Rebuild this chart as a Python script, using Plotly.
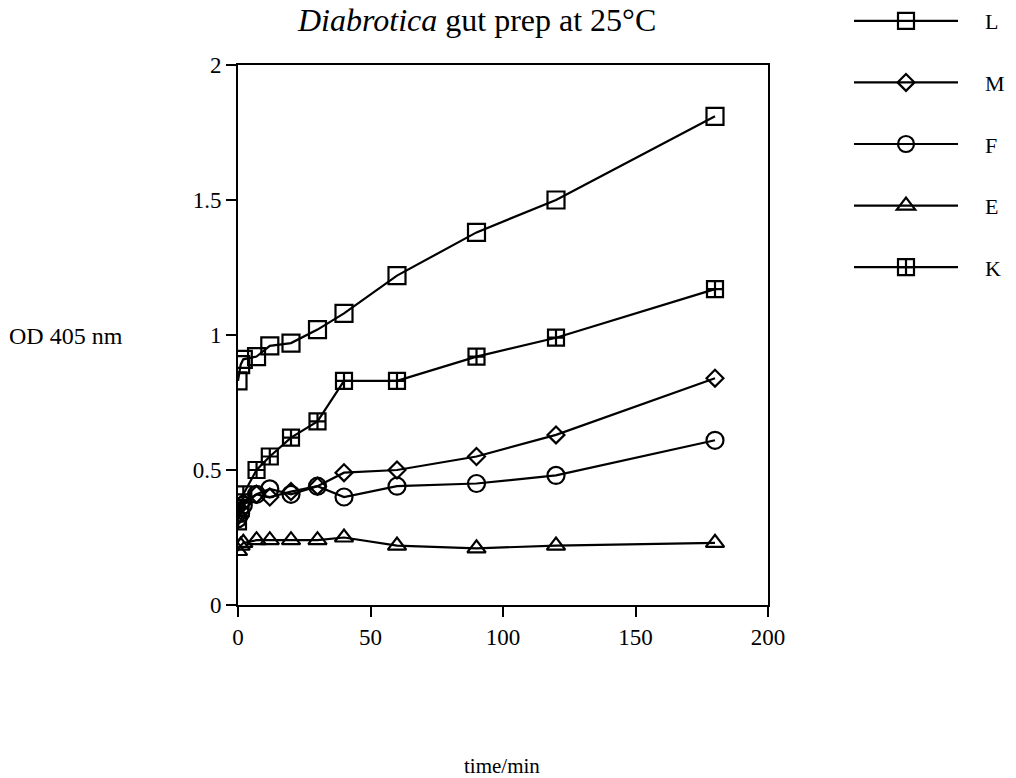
import plotly.graph_objects as go

time_min = [0, 1, 2, 7, 12, 20, 30, 40, 60, 90, 120, 180]
series_names = ["L", "M", "F", "E", "K"]
L_vals = [0.83, 0.89, 0.91, 0.92, 0.96, 0.97, 1.02, 1.08, 1.22, 1.38, 1.50, 1.81]
M_vals = [0.33, 0.35, 0.38, 0.41, 0.40, 0.42, 0.44, 0.49, 0.50, 0.55, 0.63, 0.84]
F_vals = [0.32, 0.34, 0.37, 0.41, 0.43, 0.41, 0.44, 0.40, 0.44, 0.45, 0.48, 0.61]
E_vals = [0.20, 0.22, 0.23, 0.24, 0.24, 0.24, 0.24, 0.25, 0.22, 0.21, 0.22, 0.23]
K_vals = [0.31, 0.36, 0.41, 0.50, 0.55, 0.62, 0.68, 0.83, 0.83, 0.92, 0.99, 1.17]
x_ticks = [0, 50, 100, 150, 200]
y_ticks = [0, 0.5, 1, 1.5, 2]
y_tick_text = ["0", "0.5", "1", "1.5", "2"]

symbols = ["square-open", "diamond-open", "circle-open", "triangle-up-open", "square-cross-open"]
sizes = [17, 13, 17, 16, 16]
values = [L_vals, M_vals, F_vals, E_vals, K_vals]

FONT = "Liberation Serif"
PAD = "\u00a0" * 4

fig = go.Figure()
for name, vals, sym, sz in zip(series_names, values, symbols, sizes):
    fig.add_trace(go.Scatter(
        x=time_min, y=vals, name=PAD + name, mode="lines+markers",
        legendgroup=name,
        line=dict(color="black", width=2.2),
        marker=dict(symbol=sym, size=sz, color="black",
                    line=dict(color="black", width=2.2)),
    ))

W, H = 1016, 778
L_M, R_M, T_M, B_M = 238, 248, 65, 173
PW, PH = W - L_M - R_M, H - T_M - B_M

def px_x(x):
    return (x - L_M) / PW

def px_y(y):
    return (H - B_M - y) / PH

fig.update_layout(
    width=W, height=H,
    margin=dict(l=L_M, r=R_M, t=T_M, b=B_M, pad=0, autoexpand=False),
    paper_bgcolor="white", plot_bgcolor="white",
    font=dict(family=FONT, size=22, color="black"),
    showlegend=True,
    legend=dict(
        x=px_x(849), y=px_y(0),
        xanchor="left", yanchor="top",
        font=dict(family=FONT, size=22, color="black"),
        itemwidth=104, tracegroupgap=30,
        bgcolor="rgba(0,0,0,0)",
    ),
    xaxis=dict(
        range=[0, 200], tickvals=x_ticks, ticks="outside", ticklen=10,
        tickwidth=2, tickcolor="black", showline=True, linecolor="black",
        linewidth=2, mirror=True, showgrid=False, zeroline=False,
        tickfont=dict(family=FONT, size=23),
    ),
    yaxis=dict(
        range=[0, 2], tickvals=y_ticks, ticktext=y_tick_text, ticks="outside",
        ticklen=10, tickwidth=2, tickcolor="black", showline=True,
        linecolor="black", linewidth=2, mirror=True, showgrid=False,
        zeroline=False, tickfont=dict(family=FONT, size=23),
    ),
    annotations=[
        dict(text="<i>Diabrotica</i> gut prep at 25°C", xref="paper", yref="paper",
             x=px_x(476), y=px_y(0),
             xanchor="center", yanchor="top", showarrow=False,
             font=dict(family=FONT, size=32)),
        dict(text="OD 405 nm", xref="paper", yref="paper",
             x=px_x(7), y=px_y(336),
             xanchor="left", yanchor="middle", showarrow=False,
             font=dict(family=FONT, size=24)),
        dict(text="time/min", xref="paper", yref="paper",
             x=px_x(502), y=px_y(766),
             xanchor="center", yanchor="middle", showarrow=False,
             font=dict(family=FONT, size=21)),
    ],
)

fig.write_html("out.html", config={"displayModeBar": False},
               post_script="document.body.style.margin='0';")
